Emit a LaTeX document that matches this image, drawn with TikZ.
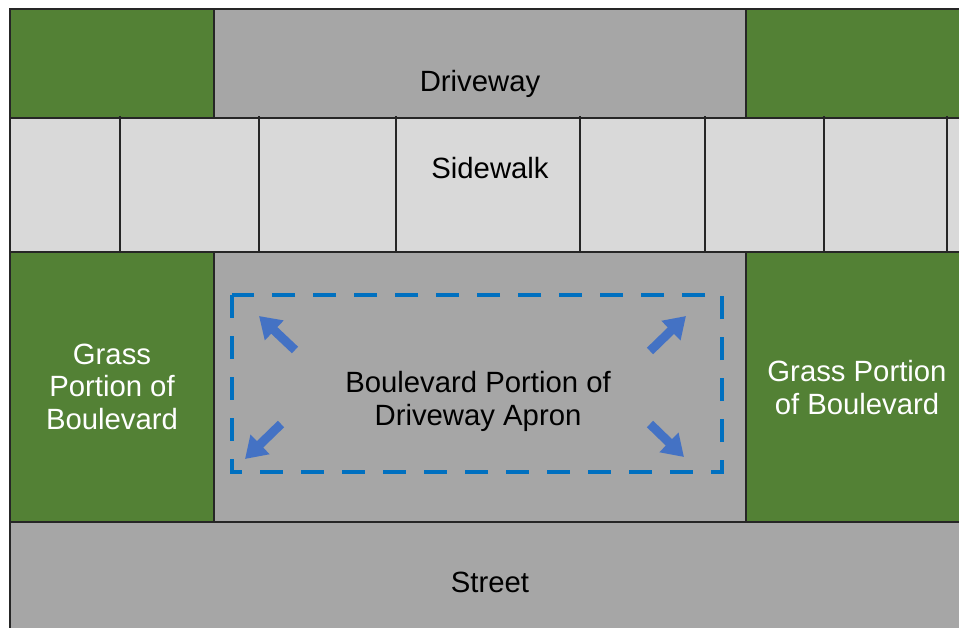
\documentclass[tikz,border=0pt]{standalone}
\usepackage{fontspec}
\setmainfont{Liberation Sans}
\usetikzlibrary{arrows.meta}
\definecolor{grass}{HTML}{538135}
\definecolor{pave}{HTML}{A6A6A6}
\definecolor{walk}{HTML}{D9D9D9}
\definecolor{edge}{HTML}{262626}
\definecolor{dashblue}{HTML}{0070C0}
\definecolor{arrowblue}{HTML}{4472C4}
\tikzset{
  region/.style={draw=edge, line width=1.5pt},
  grassfill/.style={region, fill=grass},
  pavefill/.style={region, fill=pave},
  walkfill/.style={region, fill=walk},
  joint/.style={draw=edge, line width=2pt},
  apronbox/.style={draw=dashblue, line width=4pt, dash pattern=on 23pt off 18pt},
  blockarrow/.style={draw=arrowblue, line width=9pt, -{Triangle[length=21pt,width=26pt]}},
  darklabel/.style={text=black, font=\fontsize{29.3}{32.5}\selectfont, align=center, inner sep=0pt, anchor=base},
  lightlabel/.style={darklabel, text=white}
}
\begin{document}
\begin{tikzpicture}[x=1pt,y=-1pt]
\useasboundingbox (0,0) rectangle (959,627);
\fill[white] (0,0) rectangle (959,627);
\clip (0,0) rectangle (959,627);
% top row
\path[grassfill] (10,9) rectangle (214,118);
\path[pavefill] (214,9) rectangle (746,118);
\path[grassfill] (746,9) rectangle (975,118);
% sidewalk
\path[walkfill] (10,118) rectangle (975,252);
\foreach \x in {120,259,396,580,705,824,947}{
  \draw[joint] (\x,116) -- (\x,254);
}
% middle row
\path[grassfill] (10,252) rectangle (214,522);
\path[pavefill] (214,252) rectangle (746,522);
\path[grassfill] (746,252) rectangle (975,522);
% street
\path[pavefill] (10,522) rectangle (975,640);
% apron box
\draw[apronbox] (232,295) rectangle (722,472);
% arrows
\coordinate (tlA) at (295,350); \coordinate (tlB) at (259,316);
\coordinate (blA) at (281,424); \coordinate (blB) at (245,459);
\coordinate (trA) at (650,351); \coordinate (trB) at (686,316);
\coordinate (brA) at (650,424); \coordinate (brB) at (684,457);
\draw[blockarrow] (tlA) -- (tlB);
\draw[blockarrow] (blA) -- (blB);
\draw[blockarrow] (trA) -- (trB);
\draw[blockarrow] (brA) -- (brB);
% labels (base anchor = baseline of last line)
\node[darklabel] (driveway) at (480,91) {Driveway};
\node[darklabel] (sidewalk) at (490,178) {Sidewalk};
\node[lightlabel] (grassL) at (112,429) {Grass\\Portion of\\Boulevard};
\node[darklabel] (apron) at (478,425) {Boulevard Portion of\\Driveway Apron};
\node[lightlabel] (grassR) at (857,414) {Grass Portion\\of Boulevard};
\node[darklabel] (street) at (490,592) {Street};
\end{tikzpicture}
\end{document}
